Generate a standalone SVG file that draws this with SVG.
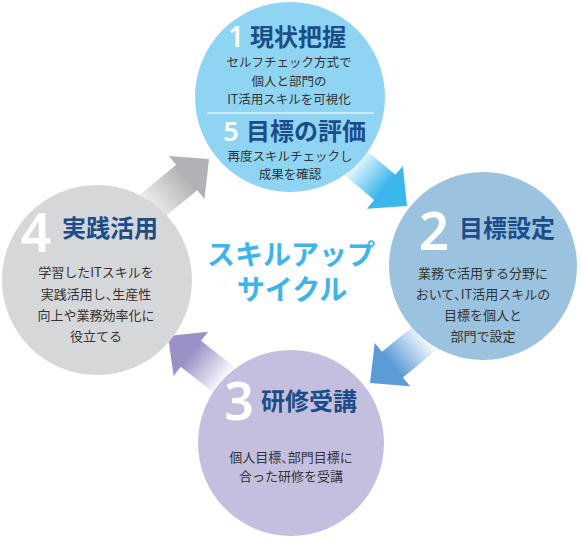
<svg xmlns="http://www.w3.org/2000/svg" width="581" height="538" viewBox="0 0 581 538">
<defs>
<style>
.h{font-family:'Noto Sans CJK JP',sans-serif;font-weight:700;font-size:24px;fill:#1c4d8a}
.b{font-family:'Noto Sans CJK JP',sans-serif;font-size:13px;fill:#333;text-anchor:middle}
.b1{font-size:12.5px}
.p{font-feature-settings:'halt'}
.n{font-family:'Noto Sans','DejaVu Sans',sans-serif;font-weight:600;fill:#fff;text-anchor:middle}
.c{font-family:'Noto Sans CJK JP',sans-serif;font-weight:700;font-size:28px;fill:#3db5e9;text-anchor:middle}
</style>
<linearGradient id="gCyan" gradientUnits="userSpaceOnUse" x1="-72" y1="0" x2="-29" y2="0"><stop offset="0" stop-color="#ffffff"/><stop offset="1" stop-color="#3ab7eb"/></linearGradient>
<linearGradient id="gBlue" gradientUnits="userSpaceOnUse" x1="-74" y1="0" x2="-29" y2="0"><stop offset="0" stop-color="#ffffff"/><stop offset="1" stop-color="#5b9bd6"/></linearGradient>
<linearGradient id="gPurple" gradientUnits="userSpaceOnUse" x1="-74" y1="0" x2="-29" y2="0"><stop offset="0" stop-color="#ffffff"/><stop offset="1" stop-color="#9c91c7"/></linearGradient>
<linearGradient id="gGray" gradientUnits="userSpaceOnUse" x1="-75" y1="0" x2="-29" y2="0"><stop offset="0" stop-color="#ececec"/><stop offset="1" stop-color="#b0b2b5"/></linearGradient>
</defs>

<g id="connectors">
  <polygon fill="url(#gCyan)" transform="translate(407,206) rotate(40)" points="0,0 -29,-28 -29,-16.5 -110,-16.5 -110,16.5 -29,16.5 -29,28"/>
  <polygon fill="url(#gBlue)" transform="translate(370,383) rotate(140.7)" points="0,0 -29,-28 -29,-16.5 -110,-16.5 -110,16.5 -29,16.5 -29,28"/>
  <polygon fill="url(#gPurple)" transform="translate(168,336) rotate(218)" points="0,0 -29,-28 -29,-16.5 -110,-16.5 -110,16.5 -29,16.5 -29,28"/>
  <polygon fill="url(#gGray)" transform="translate(209,159) rotate(-39.6)" points="0,0 -29,-28 -29,-16.5 -110,-16.5 -110,16.5 -29,16.5 -29,28"/>
</g>

<g id="node1">
  <circle cx="290" cy="97" r="95" fill="#8fd5f3"/>
  <text class="n" x="236" y="47" font-size="28">1</text>
  <text class="h" x="250" y="45.5">現状把握</text>
  <text class="b b1" x="289" y="66.5">セルフチェック方式で</text>
  <text class="b b1" x="289" y="85.5">個人と部門の</text>
  <text class="b b1" x="289" y="103.5">IT活用スキルを可視化</text>
  <line x1="207" y1="113" x2="374" y2="113" stroke="#ffffff" stroke-width="1.2"/>
  <text class="n" x="231" y="141" font-size="27">5</text>
  <text class="h" x="246" y="139.5" font-size="23.5">目標の評価</text>
  <text class="b b1" x="290" y="160.5">再度スキルチェックし</text>
  <text class="b b1" x="290" y="178.5">成果を確認</text>
</g>

<g id="node2">
  <circle cx="483" cy="266" r="94" fill="#9bc3e0"/>
  <text class="n" x="434" y="250" font-size="53">2</text>
  <text class="h" x="459" y="237">目標設定</text>
  <text class="b" x="483" y="277.5">業務で活用する分野に</text>
  <text class="b" x="483" y="298.5">おいて<tspan class="p">、</tspan>IT活用スキルの</text>
  <text class="b" x="483" y="319.5">目標を個人と</text>
  <text class="b" x="483" y="340.5">部門で設定</text>
</g>

<g id="node3">
  <circle cx="291" cy="443" r="93" fill="#c5bfdf"/>
  <text class="n" x="239" y="420" font-size="52">3</text>
  <text class="h" x="261" y="409.5">研修受講</text>
  <text class="b" x="291" y="462">個人目標<tspan class="p">、</tspan>部門目標に</text>
  <text class="b" x="291" y="481">合った研修を受講</text>
</g>

<g id="node4">
  <circle cx="97" cy="280" r="95" fill="#d6d7d9"/>
  <text class="n" x="36" y="252" font-size="54">4</text>
  <text class="h" x="62" y="237">実践活用</text>
  <text class="b" x="96" y="277">学習したITスキルを</text>
  <text class="b" x="96" y="298.5">実践活用し<tspan class="p">、</tspan>生産性</text>
  <text class="b" x="96" y="319.5">向上や業務効率化に</text>
  <text class="b" x="96" y="340.5">役立てる</text>
</g>

<g id="center">
  <text class="c" x="291" y="265">スキルアップ</text>
  <text class="c" x="292" y="300">サイクル</text>
</g>
</svg>
